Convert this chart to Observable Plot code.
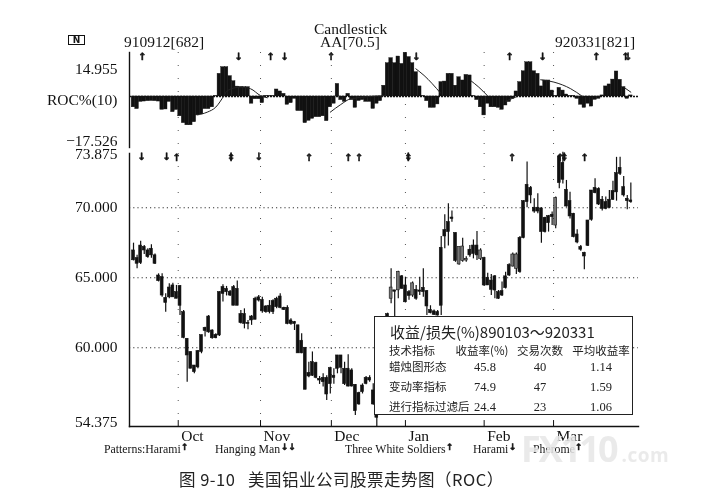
<!DOCTYPE html>
<html>
<head>
<meta charset="utf-8">
<script src="https://cdn.jsdelivr.net/npm/d3@7"></script>
<script src="https://cdn.jsdelivr.net/npm/@observablehq/plot@0.6"></script>
<style>
html,body{margin:0;padding:0;background:#fff;}
#page{position:relative;width:702px;height:500px;overflow:hidden;background:#fff;color:#151515;font-family:"Liberation Serif",serif;filter:blur(.3px);}
#page>svg{position:absolute;left:0;overflow:visible;}
.t{position:absolute;white-space:nowrap;line-height:1;}
.lbl{font-size:15.5px;}
.pat{font-size:11.8px;top:444px;}
.arr{font-family:"DejaVu Sans";font-weight:bold;font-size:9px;-webkit-text-stroke:.5px #111;}
#icon{position:absolute;left:68px;top:35px;width:15px;height:8px;border:1.2px solid #111;font:bold 9px/8px "DejaVu Sans";text-align:center;}
#box{position:absolute;left:374px;top:316px;width:257px;height:97px;border:1.5px solid #222;background:#fff;font-family:"Noto Sans CJK SC";color:#222;}
#box .c{position:absolute;white-space:nowrap;line-height:1;transform:translateX(-50%);}
#box .l{position:absolute;white-space:nowrap;line-height:1;}
#wm{position:absolute;left:521px;top:431px;font:bold 36px/1 "Open Sans";letter-spacing:-2px;color:rgba(230,230,230,.85);white-space:nowrap;}
#wm span{font-size:19px;letter-spacing:.5px;margin-left:5px;}
#cap{position:absolute;left:179px;top:471px;font:16.5px/1 "Noto Sans CJK SC";letter-spacing:.5px;color:#222;white-space:pre;}
</style>
</head>
<body>
<div id="page"></div>
<script>
// 910912[682] .. 920331[821] : bar index 0..139
const high = [67.47,66.6,67.6,67.3,67.07,67.35,66.7,65.28,65.28,63.85,
64.57,64.6,64.45,64.45,62.66,60.64,59.7,58.73,59.8,60.9,
61.47,62.3,61.28,61,64,64.5,64.38,64.09,64.45,64.76,
62.66,62.78,61.95,62.3,63.6,63.73,63.6,63,63.37,63.42,
63.6,63.85,62.9,63,62.07,61.88,61.6,61,60,58.97,
59.7,58.97,57.95,58.14,58,58.6,58.5,59.45,59.45,58.97,
59.5,58.5,57.38,56.83,57.42,57.95,58,57.42,55.28,58,
60.5,62.47,
65.64,64.09,65.47,65.16,65.04,64.09,64.7,64.45,65.04,65.64,
64.09,63,62.7,62.66,67.95,69.5,70.28,69.76,68.2,67.2,
67.83,66.5,67.3,67.7,68.3,67.07,66.47,65.33,65.23,65.16,
64.09,64.7,65.4,66,66.76,66.76,67.95,70.5,73.26,71.52,
70.64,71,70,69.33,69.45,69.7,70.76,73.73,73.97,71.95,
71.1,69.6,68.42,67.3,66.83,69.09,71.23,72.07,71.42,70.8,
70.76,71.23,71.9,73.6,73.6,72.23,70.88,71.76];
const low = [66.2,65.64,65.95,66.66,66.4,66.4,65.95,64.7,63.6,62.54,
63.5,63.6,63.5,62.3,60.64,57.54,58.5,58.14,58.5,59.57,
60.76,61.04,60.6,60.64,60.8,63.26,63.7,63.66,63,63,
61.7,61.35,61.28,61.6,62,63.26,62.47,62.47,62.42,62.38,
62.78,62.78,62.66,61.64,61.6,61.23,59.6,59.57,57,57.85,
57.95,57.78,57.38,57.2,56.23,56.7,57.4,58.14,58.14,57.3,
57.2,57.2,55.16,55.9,56.7,57.35,57.54,55.9,54.33,56.5,
58,61,
63.14,62.2,63.5,64.2,63.2,63.4,63.6,63.4,63.73,63.6,
62.3,62.42,62.3,62.26,62.3,67.07,67.26,68.97,66.1,65.9,
66.1,66.1,66.47,66.35,66.23,66.23,64.38,64.45,63.73,63.5,
63.45,63.66,64.2,65.09,65.76,65.23,65.33,67.78,70,70.28,
69.6,69.57,67.47,68.2,68.26,68.73,68.5,71.35,71.7,70.04,
69.2,67.85,67.42,66.9,65.57,67.23,69.04,71,70.16,69.76,
69.85,69.92,70.52,70.47,72.3,70.76,69.85,70.33];
const bodyTop = [66.95,66.4,67.3,67.2,66.95,67.07,66.6,65.16,65.04,63.56,
64.3,64.45,63.97,64.4,62.54,60.64,59.7,58.73,59.76,60.9,
61.42,62.23,61.23,60.92,63.97,64.33,64.2,64,64.33,64.2,
62.4,62.4,61.78,62.23,63.5,63.6,63.4,62.95,63,63.33,
63.5,63.66,62.85,62.85,61.95,61.83,61.6,60.5,60,58.2,
58.97,58.9,57.78,57.85,57.85,58.54,58,59.45,59.45,58.5,
58.5,58.38,57.35,56.76,57.3,57.85,57.85,56.95,55.16,57.6,
60,62.4,
64.3,64.1,65.4,65.1,64.45,63.97,64.6,64.14,64.09,64.28,
64.04,62.7,62.6,62.55,67.14,68.4,68.97,69.3,68.2,67.2,
67.23,66.35,67,67.3,67.3,66.95,66.4,65,64.8,65.1,
63.97,64.04,65.1,65.9,66.66,66.66,67.85,70.47,71.64,71.42,
70,70,69.95,69.28,69.4,69.5,70.7,73.66,73.2,71.28,
70.47,69.57,68.09,67.2,66.78,69.09,71.23,71.42,71.35,70.57,
70.4,70.57,71.2,72.47,72.85,71.47,70.64,70.52];
const bodyBot = [66.25,66,66.05,66.95,66.47,66.6,66,64.76,63.73,63.2,
63.6,63.6,63.5,63,60.7,59.45,58.5,58.26,58.6,59.7,
61.2,61.1,60.68,60.68,60.88,63.85,63.97,63.73,63,63,
61.76,61.7,61.7,61.95,62,63.37,62.6,62.54,62.54,62.54,
62.9,62.85,62.7,61.7,61.7,61.7,59.6,59.6,57,57.95,
58,57.85,57.66,57.54,56.66,57.4,57.85,58.5,58.57,57.4,
57.23,57.23,55.47,55.95,56.83,57.42,57.66,55.95,55,56.8,
58.5,61.5,
63.5,64,64.1,64.2,63.25,63.7,63.73,63.5,64,63.97,
62.95,62.47,62.35,62.3,63,67.95,68.26,69.2,66.2,65.95,
66.2,66.23,66.6,66.7,66.6,66.35,64.45,64.45,64.14,64.09,
63.5,63.73,64.26,65.16,65.8,65.64,65.4,67.83,70.4,70.88,
69.73,69.73,68.26,68.26,68.9,69.33,68.73,71.76,72,70.09,
69.38,67.9,67.52,67,66.52,67.28,69.14,71.04,70.23,69.92,
69.92,70,70.57,71.1,72.42,70.88,70.47,70.4];
const hollowBars = [72,74,78,91,92,93,97,106,107,118];

const roc = [-6,-7,-3,-2.8,-2.6,-2.5,-2.6,-2.8,-7.4,-7.2,
-3,-8.7,-7.5,-11,-14.8,-16,-16,-14.3,-10.5,-10,
-7,-7,-6,0.3,12.6,16.3,16.3,11.3,8.5,5.5,
5.3,5.2,5.2,-4,-1.5,-1.5,-3.7,0.3,0.3,0.3,
3.9,2.8,1.5,-4.6,-3.7,-1.3,-8.1,-8.1,-14.8,-13.5,
-12.4,-11.5,-11.5,-11,-13.7,-6,-4,7,-2,-3,
1.5,-2,-6.3,-2.5,-2,-3,-3,-6.9,-4,-2.6,
6,18.5,21.3,18.5,22.2,18.1,24.3,21.9,18.5,13.5,
5.6,0.3,-2.6,-6.3,-6.3,-4.4,8,8.3,12.6,12.6,
6,10.7,8.9,12,11.7,0.3,-2,-6,-10.5,-4,
-6,-6,-6.3,-7.4,-5,-3.1,-1.3,2.8,8,14,
19,19,14,12.6,5.6,8.9,8.9,3.3,0.3,4.8,
3.3,1.1,0.3,0.3,-1.3,-4.6,-6.3,-4,-5.6,-1.9,
-1.3,0.6,5.6,6.7,9.4,13.9,9.3,5.2,-1.3,0.6];

// ROC signal line, only where it shows outside the black bars
const signalIdx = [17.8,20.6,23,25.3,26.2,29.9,32.7,35.5,37.4, 55,57.9,60.7,70.5, 78.9,81.2,85.8, 94.2,96.5,98.9, 104,107.2, 113.8,117.5,122.2,125.5, 137,139];
const signalVal = [-10.2,-8.7,-5.9,0.5,3.3,5.2,4.3,0.5,-0.7, -8.7,-4.5,-1.3,0.5, 15.4,11.7,1.9, 8.9,5.2,0.5, -2.6,0, 9.3,8,4.3,0, 5.2,2.4];
const signalSeg = [1,1,1,1,1,1,1,1,1, 2,2,2,2, 3,3,3, 4,4,4, 5,5, 6,6,6,6, 7,7];

const monthTicks = [12.5,35.5,55.3,76,98,117.4];
const monthLabels = ["Oct","Nov","Dec","Jan","Feb","Mar"];
const priceTicks = [70,65,60];
const priceGrid = [70,65,60];

const rocUp = [2.4,38.3,55.2,105.1,129.3,137.5];
const rocDown = [29.3,42.2,79,114.3,138.2];
const priceUp = [12,27.2,49,60,63,76.8,105.8,119.2,120.4,126];
const priceDown = [2.2,9.2,27.2,35,76.8,120.4];

const tableTitle = "收益/损失(%)890103～920331";
const tableHead = ["技术指标","收益率(%)","交易次数","平均收益率"];
const tableNames = ["蜡烛图形态","变动率指标","进行指标过滤后"];
const tableReturn = ["45.8","74.9","24.4"];
const tableTrades = ["40","47","23"];
const tableAvg = ["1.14","1.59","1.06"];

const xDomain = [-1.12,141.14];
const ink = "#111";
const bars = d3.range(high.length).map(i => ({i, h:high[i], l:low[i], t:bodyTop[i], b:bodyBot[i], hollow:hollowBars.includes(i)}));
const rocRows = roc.map((v,i)=>({i,v}));
const sig = signalIdx.map((x,i)=>({x,v:signalVal[i],s:signalSeg[i]}));
const common = {width:702, marginLeft:129, marginRight:64, style:{background:"transparent",fontFamily:'"Liberation Serif"',fontSize:"15.5px",color:ink,overflow:"visible"}};
const arrowOpts = {frameAnchor:"top", fontFamily:"DejaVu Sans", fontWeight:"bold", fontSize:10, fill:ink, stroke:ink, strokeWidth:.5};
const axisOpts = {anchor:"left",tickSize:0,tickPadding:12,fontSize:15.5,label:null};

const rocPlot = Plot.plot({...common, height:150, marginTop:52, marginBottom:3,
  x:{domain:xDomain, axis:null, label:null},
  y:{domain:[-28.33,24.44], axis:null, label:null},
  marks:[
    Plot.ruleX(monthTicks,{stroke:"#555",strokeDasharray:"1 12"}),
    Plot.rectY(rocRows,{x1:d=>d.i-.5,x2:d=>d.i+.5,y1:0,y2:"v",fill:ink,stroke:ink,strokeWidth:.4}),
    Plot.ruleY([0],{stroke:ink,strokeWidth:1.6,strokeDasharray:"2 1"}),
    Plot.line(sig,{x:"x",y:"v",z:"s",curve:"monotone-x",stroke:"#222",strokeWidth:1}),
    Plot.frame({anchor:"left",stroke:ink,strokeWidth:1.4}),
    Plot.axisY({...axisOpts,ticks:[15],tickFormat:()=>"14.955"}),
    Plot.axisY({...axisOpts,ticks:[0],dy:4,tickFormat:()=>"ROC%(10)"}),
    Plot.axisY({...axisOpts,ticks:[-17.526],dy:12.5,tickFormat:()=>"−17.526"}),
    Plot.text(rocUp,{x:d=>d,text:()=>"↑",...arrowOpts}),
    Plot.text(rocDown,{x:d=>d,text:()=>"↓",...arrowOpts})
  ]});
rocPlot.style.top="0";

const pricePlot = Plot.plot({...common, height:310, marginTop:3, marginBottom:34,
  x:{domain:xDomain, axis:null, label:null},
  y:{domain:[54.375,73.875], axis:null, label:null},
  marks:[
    Plot.ruleX(monthTicks,{stroke:"#555",strokeDasharray:"1 12"}),
    Plot.ruleY(priceGrid,{stroke:"#333",strokeWidth:1,strokeDasharray:"1.2 3"}),
    Plot.ruleX(bars,{x:"i",y1:"l",y2:"h",stroke:ink,strokeWidth:1.2}),
    Plot.rect(bars,{x1:d=>d.i-.4,x2:d=>d.i+.4,y1:"b",y2:"t",fill:d=>d.hollow?"#777":ink,stroke:ink,strokeWidth:.6}),
    Plot.frame({anchor:"left",stroke:ink,strokeWidth:1.4}),
    Plot.frame({anchor:"bottom",stroke:ink,strokeWidth:1.4}),
    Plot.ruleX(monthTicks,{y1:54.375,y2:54.8,stroke:ink,strokeWidth:1}),
    Plot.axisY({...axisOpts,ticks:priceTicks,dy:-1,tickFormat:d3.format(".3f")}),
    Plot.axisY({...axisOpts,ticks:[73.875],dy:1,tickFormat:d3.format(".3f")}),
    Plot.axisY({...axisOpts,ticks:[54.375],dy:-4,tickFormat:d3.format(".3f")}),
    Plot.axisX({anchor:"bottom",ticks:monthTicks,tickSize:0,tickPadding:3,textAnchor:"start",dx:3,label:null,
      tickFormat:d=>monthLabels[monthTicks.indexOf(d)],fontSize:15.5}),
    Plot.text(priceUp,{x:d=>d,text:()=>"↑",...arrowOpts,dy:0}),
    Plot.text(priceDown,{x:d=>d,text:()=>"↓",...arrowOpts,dy:-1})
  ]});
pricePlot.style.top="150px";

const page = document.getElementById("page");
page.append(rocPlot, pricePlot);

function add(html, css, cls="t"){
  const e=document.createElement("div");
  e.className=cls; e.innerHTML=html; e.style.cssText=css; page.append(e); return e;
}
add("Candlestick","left:314px;top:21px;","t lbl");
add("AA[70.5]","left:320px;top:34px;","t lbl");
add("910912[682]","left:124px;top:34px;","t lbl");
add("920331[821]","left:555px;top:34px;","t lbl");
const icon=document.createElement("div"); icon.id="icon"; icon.textContent="N"; page.append(icon);

const patterns=[["Patterns:Harami",104,"↑",181],["Hanging Man",215,"↓↓",281],["Three White Soldiers",345,"↑",446],["Harami",473,"↓",509],["Pherome",533,"↑",575]];
patterns.forEach(([s,x,a,ax])=>{
  add(s,`left:${x}px;`,"t pat");
  add(a,`left:${ax}px;top:443px;`,"t arr");
});

const box=document.createElement("div"); box.id="box"; page.append(box);
function boxText(s,css,cls){const e=document.createElement("div");e.className=cls;e.textContent=s;e.style.cssText=css;box.append(e);}
boxText(tableTitle,"left:15px;top:7px;font-size:15px;","l");
const colX=[107,165,226];
const valX=[110,165,226];
tableHead.forEach((s,i)=>{
  if(i===0) boxText(s,"left:14px;top:28px;font-size:11.5px;","l");
  else boxText(s,`left:${colX[i-1]}px;top:28px;font-size:11.5px;`,"c");
});
tableNames.forEach((s,r)=>{
  const y=44+r*20;
  boxText(s,`left:14px;top:${y}px;font-size:11.5px;`,"l");
  [tableReturn,tableTrades,tableAvg].forEach((col,k)=>{
    boxText(col[r],`left:${valX[k]}px;top:${y}px;font-family:'Liberation Serif';font-size:12.5px;`,"c");
  });
});

const wm=document.createElement("div"); wm.id="wm"; wm.innerHTML='FX110<span>.com</span>'; page.append(wm);
const cap=document.createElement("div"); cap.id="cap"; cap.textContent="图 9-10   美国铝业公司股票走势图（ROC）"; page.append(cap);
</script>
</body>
</html>
